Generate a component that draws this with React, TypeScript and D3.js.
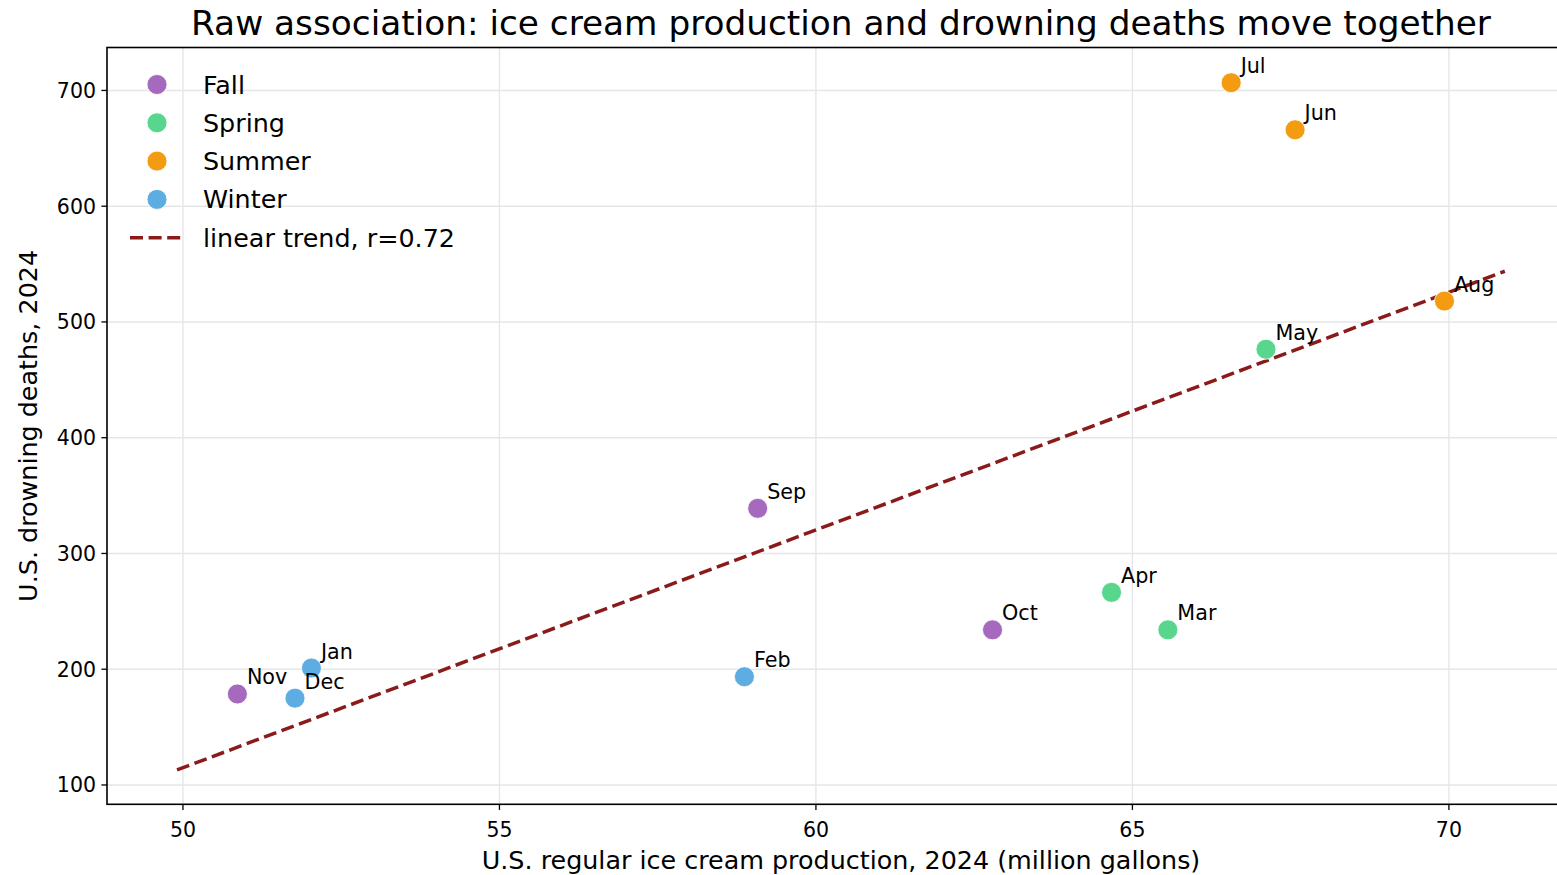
import React from 'react';
import * as d3 from 'd3';

// Monthly 2024 values
const months = ['Jan', 'Feb', 'Mar', 'Apr', 'May', 'Jun', 'Jul', 'Aug', 'Sep', 'Oct', 'Nov', 'Dec'];
const iceCream = [52.03, 58.87, 65.56, 64.67, 67.11, 67.57, 66.56, 69.93, 59.08, 62.79, 50.86, 51.77];
const drownings = [201, 193.5, 234, 266.4, 476.4, 666, 706.7, 518, 339, 234, 178.6, 175];
const seasons = ['Winter', 'Winter', 'Spring', 'Spring', 'Spring', 'Summer', 'Summer', 'Summer', 'Fall', 'Fall', 'Fall', 'Winter'];

const seasonOrder = ['Fall', 'Spring', 'Summer', 'Winter'];
const seasonColors = ['#a569bd', '#58d68d', '#f39c12', '#5dade2'];

const xTicks = [50, 55, 60, 65, 70];
const yTicks = [100, 200, 300, 400, 500, 600, 700];
const xLimits = [48.8, 71.97];
const yLimits = [83.3, 737.1];
const trendLabel = 'linear trend, r=0.72';

const title = 'Raw association: ice cream production and drowning deaths move together';
const xLabel = 'U.S. regular ice cream production, 2024 (million gallons)';
const yLabel = 'U.S. drowning deaths, 2024';

const W = 1557;
const H = 875;
const plot = { left: 107, right: 1573.6, top: 47.5, bottom: 804.3 };
const FONT = '"DejaVu Sans", sans-serif';

export default function App() {
  // least-squares fit
  const mx = d3.mean(iceCream) as number;
  const my = d3.mean(drownings) as number;
  let sxy = 0;
  let sxx = 0;
  iceCream.forEach((x, i) => {
    sxy += (x - mx) * (drownings[i] - my);
    sxx += (x - mx) * (x - mx);
  });
  const slope = sxy / sxx;
  const intercept = my - slope * mx;
  const [xMin, xMax] = d3.extent(iceCream) as [number, number];
  const pad = 0.05 * (xMax - xMin);
  const lineX = [xMin - pad, xMax + pad];
  const lineY = lineX.map((x) => intercept + slope * x);

  const x = d3.scaleLinear().domain(xLimits).range([plot.left, plot.right]);
  const y = d3.scaleLinear().domain(yLimits).range([plot.bottom, plot.top]);
  const color = d3.scaleOrdinal<string, string>().domain(seasonOrder).range(seasonColors);

  const trendPath = d3.line<number>()
    .x((d) => x(d))
    .y((_, i) => y(lineY[i]))(lineX) as string;

  const gridColor = '#e6e6e6';
  const trendColor = '#8b1a1a';
  const legendRows = [...seasonOrder, trendLabel];

  return (
    <svg width={W} height={H} style={{ position: 'absolute', left: 0, top: 0, display: 'block', background: '#fff' }} fontFamily={FONT}>
      <defs>
        <clipPath id="plotClip">
          <rect x={plot.left} y={plot.top} width={plot.right - plot.left} height={plot.bottom - plot.top} />
        </clipPath>
      </defs>

      {/* grid */}
      <g clipPath="url(#plotClip)">
        {xTicks.map((t) => (
          <line key={'gx' + t} x1={x(t)} x2={x(t)} y1={plot.top} y2={plot.bottom} stroke={gridColor} strokeWidth={1.4} />
        ))}
        {yTicks.map((t) => (
          <line key={'gy' + t} x1={plot.left} x2={plot.right} y1={y(t)} y2={y(t)} stroke={gridColor} strokeWidth={1.4} />
        ))}
      </g>

      {/* trend line */}
      <path d={trendPath} fill="none" stroke={trendColor} strokeWidth={3.5} strokeDasharray="13,5.6" clipPath="url(#plotClip)" />

      {/* points */}
      <g>
        {months.map((m, i) => (
          <circle key={m} cx={x(iceCream[i])} cy={y(drownings[i])} r={10} fill={color(seasons[i])} stroke="#fff" strokeWidth={0.8} />
        ))}
      </g>

      {/* point labels */}
      <g fontSize={20.7} fill="#000">
        {months.map((m, i) => (
          <text key={'t' + m} x={x(iceCream[i]) + 9.5} y={y(drownings[i]) - 9.5}>{m}</text>
        ))}
      </g>

      {/* frame */}
      <rect x={plot.left} y={plot.top} width={plot.right - plot.left} height={plot.bottom - plot.top} fill="none" stroke="#000" strokeWidth={1.6} />

      {/* ticks */}
      <g fontSize={20.5} fill="#000">
        {xTicks.map((t) => (
          <g key={'xt' + t}>
            <line x1={x(t)} x2={x(t)} y1={plot.bottom} y2={plot.bottom + 5.6} stroke="#000" strokeWidth={1.3} />
            <text x={x(t)} y={836.7} textAnchor="middle">{t}</text>
          </g>
        ))}
        {yTicks.map((t) => (
          <g key={'yt' + t}>
            <line x1={plot.left - 5.6} x2={plot.left} y1={y(t)} y2={y(t)} stroke="#000" strokeWidth={1.3} />
            <text x={plot.left - 11} y={y(t) + 7.5} textAnchor="end">{t}</text>
          </g>
        ))}
      </g>

      {/* axis labels */}
      <text x={841} y={860} textAnchor="middle" dominantBaseline="central" fontSize={25.4} fill="#000">{xLabel}</text>
      <text transform={`translate(28,${(plot.top + plot.bottom) / 2}) rotate(-90)`} textAnchor="middle" dominantBaseline="central" fontSize={25.4} fill="#000">{yLabel}</text>

      {/* title */}
      <text x={841} y={35} textAnchor="middle" fontSize={34.3} fill="#000">{title}</text>

      {/* legend */}
      <g fontSize={25.4} fill="#000">
        {legendRows.map((label, i) => {
          const ry = 84.5 + i * 38.3;
          const isTrend = i === seasonOrder.length;
          return (
            <g key={'lg' + label}>
              {isTrend ? (
                <line x1={130} x2={182} y1={ry} y2={ry} stroke={trendColor} strokeWidth={3.5} strokeDasharray="13,5.6" />
              ) : (
                <circle cx={157} cy={ry} r={10} fill={color(label)} stroke="#fff" strokeWidth={0.8} />
              )}
              <text x={203} y={ry} dominantBaseline="central">{label}</text>
            </g>
          );
        })}
      </g>
    </svg>
  );
}
